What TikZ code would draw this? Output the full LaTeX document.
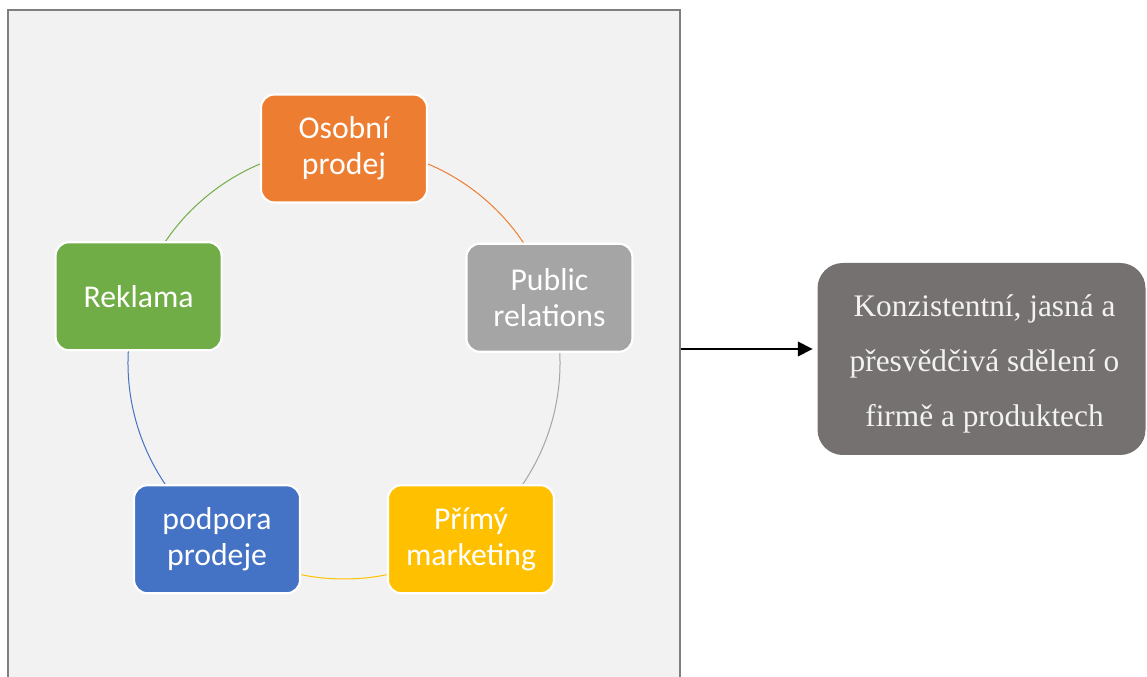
\documentclass[tikz,border=0pt]{standalone}
\usepackage{fontspec}
\setmainfont{Liberation Serif}
\newfontfamily\boxfont{Carlito}
\usetikzlibrary{arrows.meta,calc}

\definecolor{panelfill}{HTML}{F2F2F2}
\definecolor{panelline}{HTML}{7F7F7F}
\definecolor{cOrange}{HTML}{ED7D31}
\definecolor{cGray}{HTML}{A5A5A5}
\definecolor{cYellow}{HTML}{FFC000}
\definecolor{cBlue}{HTML}{4472C4}
\definecolor{cGreen}{HTML}{70AD47}
\definecolor{resultfill}{HTML}{767171}

\tikzset{
  toolbox/.style={draw=white, line width=1.6pt, rounded corners=10pt,
    minimum width=124.5pt, minimum height=81pt, align=center,
    text=white, font=\boxfont\fontsize{23.8pt}{27pt}\selectfont},
  ring/.style={line width=0.75pt},
  resultbox/.style={fill=resultfill, rounded corners=19pt,
    minimum width=246pt, minimum height=144pt},
  resulttext/.style={align=center, text=panelfill,
    font=\fontsize{23.5pt}{41.5pt}\selectfont},
}

\begin{document}
\begin{tikzpicture}[x=0.75pt,y=0.75pt]
  \useasboundingbox (0,0) rectangle (1147,-677);

  % grey panel holding the cycle
  \node[draw=panelline, fill=panelfill, line width=1.7pt, minimum width=504pt,
    minimum height=517.5pt, inner sep=0pt] (panel) at (344,-355) {};

  % centre of the cycle
  \coordinate (c) at (344,-363);

  % ring segments, each in the colour of the box it leaves
  \draw[ring, cOrange] ($(c)+(90:162pt)$) arc[start angle=90, end angle=18, radius=162pt];
  \draw[ring, cGray]   ($(c)+(18:162pt)$) arc[start angle=18, end angle=-54, radius=162pt];
  \draw[ring, cYellow] ($(c)+(-54:162pt)$) arc[start angle=-54, end angle=-126, radius=162pt];
  \draw[ring, cBlue]   ($(c)+(-126:162pt)$) arc[start angle=-126, end angle=-198, radius=162pt];
  \draw[ring, cGreen]  ($(c)+(162:162pt)$) arc[start angle=162, end angle=90, radius=162pt];

  % the five tools
  \node[toolbox, fill=cOrange] (osobni)  at ($(c)+(90:162pt)+(0,-1.5)$)   {Osobní\\prodej};
  \node[toolbox, fill=cGray]   (pr)      at ($(c)+(18:162pt)+(0,-1.5)$)   {Public\\relations};
  \node[toolbox, fill=cYellow] (primy)   at ($(c)+(-54:162pt)+(0,-1.5)$)  {Přímý\\marketing};
  \node[toolbox, fill=cBlue]   (podpora) at ($(c)+(-126:162pt)+(0,-1.5)$) {podpora\\prodeje};
  \node[toolbox, fill=cGreen]  (reklama) at ($(c)+(162:162pt)$)  {Reklama};

  % result
  \node[resultbox] (result) at (981.5,-359) {};
  \node[resulttext] (resulttxt) at ($(result.center)+(3,-5)$)
    {Konzistentní, jasná a\\přesvědčivá sdělení o\\firmě a produktech};

  \coordinate (out) at (panel.east |- 0,-349);
  \draw[line width=1.1pt, -{Triangle[length=11pt, width=11pt]}, shorten >=3.5pt]
    (out) -- (out -| result.west);
\end{tikzpicture}
\end{document}
